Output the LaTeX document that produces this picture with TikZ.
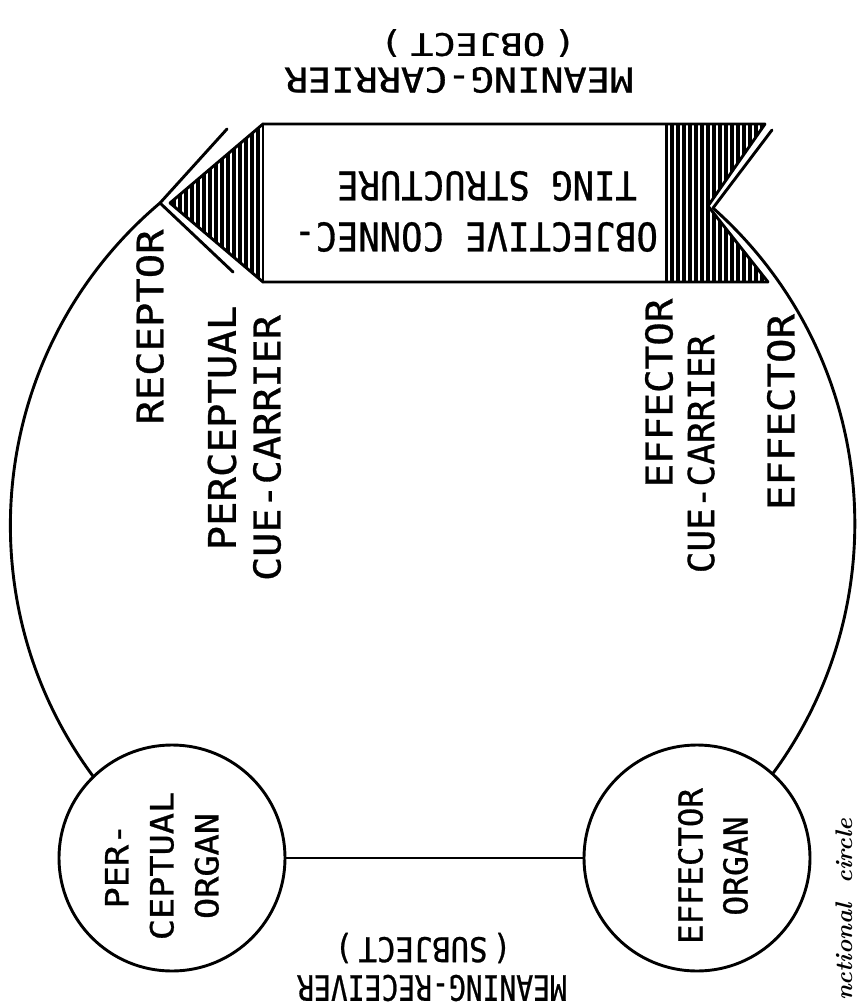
\documentclass[tikz,border=0pt]{standalone}
\usepackage{fontspec}
\usepackage{graphicx}
\newfontfamily\lettering[FakeBold=0.8]{DejaVu Sans Mono}
\newcommand\hs[2]{\scalebox{#1}[1]{#2}}
\newcommand\fs[1]{\fontsize{#1}{#1}\selectfont}
\begin{document}
\begin{tikzpicture}[x=1pt,y=-1pt,line cap=round,line join=round,
  ln/.style={line width=2.9pt},
  hatch/.style={line width=3.1pt,line cap=butt},
  lab/.style={font=\lettering,inner sep=0pt,anchor=center},
  up/.style={lab,rotate=90},
  flip/.style={lab,rotate=180},
  organ/.style={circle,draw,line width=2.9pt,fill=white,minimum size=226pt,inner sep=0pt}]
\useasboundingbox (0,0) rectangle (856,1003);
% key points of the band
\coordinate (tl) at (263,124);
\coordinate (bl) at (263,282);
\coordinate (tr) at (765,124);
\coordinate (br) at (768,282);
\coordinate (hl) at (665,124);
\coordinate (hlb) at (665,282);
\coordinate (tip) at (170,203);
\coordinate (notch) at (708,206);
\coordinate (rec) at (160,203);
\coordinate (recA) at (227,129);
\coordinate (recB) at (233,272);
\coordinate (eff) at (713,208);
\coordinate (effA) at (772,130);
% hatching
\begin{scope}
  \clip (tip) -- (tl) -- (bl) -- cycle;
  \foreach \x in {168,174,...,268} \draw[hatch] (\x,110) -- (\x,300);
\end{scope}
\begin{scope}
  \clip (hl) -- (tr) -- (notch) -- (br) -- (hlb) -- cycle;
  \foreach \x in {666,672,...,772} \draw[hatch] (\x,110) -- (\x,300);
\end{scope}
% band outline
\draw[ln] (tip) -- (tl) -- (tr);
\draw[ln] (tip) -- (bl) -- (br);
\draw[ln] (tl) -- (bl);
\draw[ln] (tr) -- (notch) -- (br);
\draw[ln] (recA) -- (rec) -- (recB);
\draw[ln] (effA) -- (eff);
% big circle
\draw[ln] (rec) arc[start angle=229.8,end angle=140,radius=422];
\draw[ln] (eff) arc[start angle=-48.4,end angle=40,radius=422];
% organs
\node[organ] (po) at (172,858) {};
\node[organ] (eo) at (697,858) {};
\draw[ln] (po) -- (eo);
% labels
\node[up,font=\lettering\fs{36.5}] (lrec) at (150,327) {\hs{1.11}{RECEPTOR}};
\node[up,font=\lettering\fs{38}] (lpc1) at (222,428) {\hs{1.07}{PERCEPTUAL}};
\node[up,font=\lettering\fs{37}] (lpc2) at (267,448) {\hs{1.085}{CUE-CARRIER}};
\node[up,font=\lettering\fs{37}] (lec1) at (659,393) {\hs{1.06}{EFFECTOR}};
\node[up,font=\lettering\fs{36}] (lec2) at (701,454) {\hs{1.0}{CUE-CARRIER}};
\node[up,font=\lettering\fs{37}] (leff) at (781,412) {\hs{1.1}{EFFECTOR}};
\node[flip,font=\lettering\fs{34.3}] (lmc) at (459,80) {\hs{1.125}{MEANING-CARRIER}};
\node[flip,font=\lettering\fs{31}] (lobj) at (478,43) {\hs{1.2}{(\kern7pt OBJECT\kern7pt)}};
\node[flip,font=\lettering\fs{39.5}] (loc1) at (476,237) {\hs{0.9}{OBJECTIVE CONNEC-}};
\node[flip,font=\lettering\fs{39.5}] (loc2) at (487,186) {\hs{0.9}{TING STRUCTURE}};
\node[flip,font=\lettering\fs{35}] (lmr) at (432,988) {\hs{0.8}{MEANING-RECEIVER}};
\node[flip,font=\lettering\fs{34}] (lsub) at (423,948) {\hs{0.9}{(\kern6pt SUBJECT\kern6pt)}};
\node[up,font=\lettering\fs{32},align=center] (lpo) at (162,866)
  {\hs{1.1}{PER-}\\[13pt]\hs{1.1}{CEPTUAL}\\[13pt]\hs{1.1}{ORGAN}};
\node[up,font=\lettering\fs{33},align=center] (leo) at (713,866)
  {\hs{0.98}{EFFECTOR}\\[12pt]\hs{1.0}{ORGAN}};
% caption
\node[rotate=90,anchor=south west,inner sep=0pt,font=\fs{24}\bfseries\itshape] (cap) at (853,1001) {nctional\ \ circle};
\end{tikzpicture}
\end{document}
